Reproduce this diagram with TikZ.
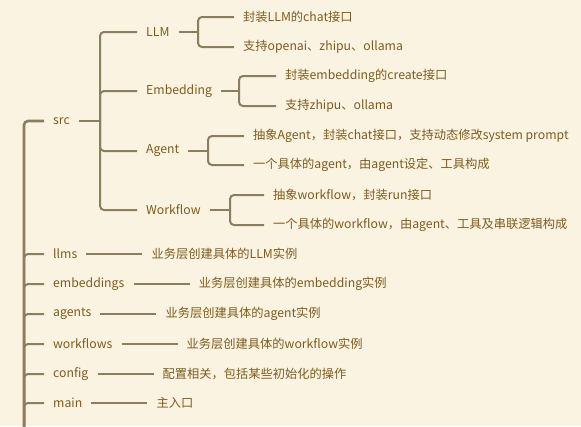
\documentclass[tikz,border=0pt]{standalone}
\usepackage{fontspec}
\setmainfont{Noto Sans CJK SC}
\usepackage{tikz}
\usetikzlibrary{positioning}
\definecolor{bgcol}{HTML}{FBF3E1}
\definecolor{linecol}{HTML}{8A7E5F}
\definecolor{textcol}{HTML}{7D5C1E}
\tikzset{
  topic/.style={anchor=west,inner xsep=9pt,inner ysep=2pt,text=textcol,font=\fontsize{12.25}{14}\selectfont},
  branch/.style={draw=linecol,line width=2pt,rounded corners=4pt},
  trunk/.style={draw=linecol,line width=2.6pt,rounded corners=4pt}
}
\begin{document}
\begin{tikzpicture}[x=1pt,y=-1pt]
		\fill[bgcol] (0,0) rectangle (581,426);
		\clip (0,0) rectangle (581,426);
		%
		\coordinate (R) at (24,440);
		\node[topic] (S) at (44,121) {src};
		\coordinate (SF) at (100,121);
		%
		\node[topic] (L) at (137,32) {LLM};
		\node[topic] (E) at (137,91) {Embedding};
		\node[topic] (A) at (137,151) {Agent};
		\node[topic] (W) at (137,210) {Workflow};
		%
		\coordinate (LF) at (198,32);
		\node[topic] (L1) at (234,17) {封装LLM的chat接口};
		\node[topic] (L2) at (234,47) {支持openai、zhipu、ollama};
		\coordinate (EF) at (239,91);
		\node[topic] (E1) at (276,76) {封装embedding的create接口};
		\node[topic] (E2) at (276,106) {支持zhipu、ollama};
		\coordinate (AF) at (208,151);
		\node[topic] (A1) at (244,136) {抽象Agent，封装chat接口，支持动态修改system prompt};
		\node[topic] (A2) at (244,165) {一个具体的agent，由agent设定、工具构成};
		\coordinate (WF) at (230,210);
		\node[topic] (W1) at (264,195) {抽象workflow，封装run接口};
		\node[topic] (W2) at (264,225) {一个具体的workflow，由agent、工具及串联逻辑构成};
		%
		\node[topic] (l) at (44,254) {llms};
		\node[topic] (e) at (44,284) {embeddings};
		\node[topic] (a) at (44,314) {agents};
		\node[topic] (w) at (44,344) {workflows};
		\node[topic] (c) at (44,374) {config};
		\node[topic] (m) at (44,403) {main};
		\node[topic,right=56pt of l] (l') {业务层创建具体的LLM实例};
		\node[topic,right=56pt of e] (e') {业务层创建具体的embedding实例};
		\node[topic,right=56pt of a] (a') {业务层创建具体的agent实例};
		\node[topic,right=56pt of w] (w') {业务层创建具体的workflow实例};
		\node[topic,right=56pt of c] (c') {配置相关，包括某些初始化的操作};
		\node[topic,right=56pt of m] (m') {主入口};
		%
		\draw[trunk] (R) |- (S.west);
		\foreach \n in {l,e,a,w,c,m}
			\draw[branch] (R) |- (\n.west);
		\foreach \n in {l,e,a,w,c,m}
			\draw[branch] (\n.east) -- (\n'.west);
		%
		\draw[branch] (S.east) -- (SF);
		\foreach \n in {L,E,A,W}
			\draw[branch] (SF) |- (\n.west);
		\draw[branch] (L.east) -- (LF);
		\draw[branch] (LF) |- (L1.west);
		\draw[branch] (LF) |- (L2.west);
		\draw[branch] (E.east) -- (EF);
		\draw[branch] (EF) |- (E1.west);
		\draw[branch] (EF) |- (E2.west);
		\draw[branch] (A.east) -- (AF);
		\draw[branch] (AF) |- (A1.west);
		\draw[branch] (AF) |- (A2.west);
		\draw[branch] (W.east) -- (WF);
		\draw[branch] (WF) |- (W1.west);
		\draw[branch] (WF) |- (W2.west);
		\end{tikzpicture}
\end{document}
